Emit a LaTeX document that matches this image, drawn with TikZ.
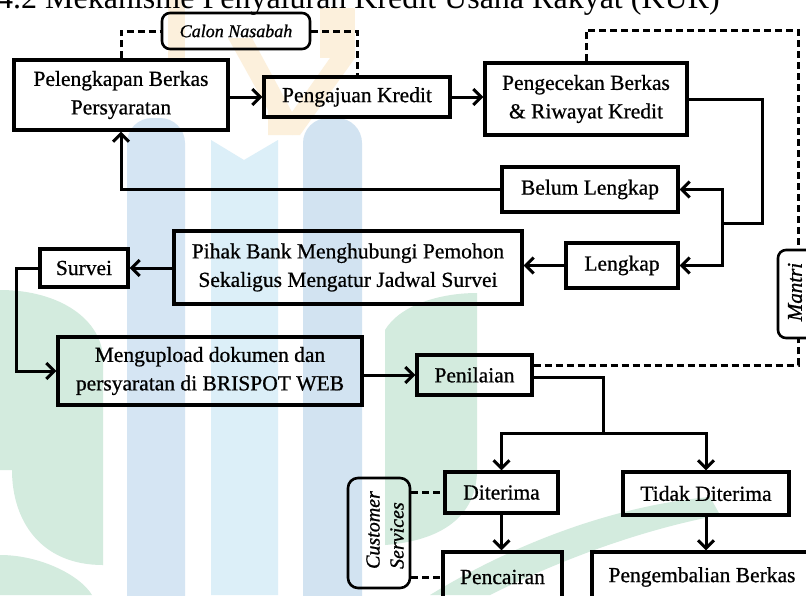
\documentclass[tikz,border=0pt]{standalone}
\usepackage{fontspec}
\setmainfont{Liberation Serif}
\newfontfamily\boxfont{Liberation Serif}[FakeBold=0.7]
\newfontfamily\lblfont{Liberation Serif}[FakeBold=1.0]
\usetikzlibrary{arrows.meta}
\definecolor{wmblueA}{HTML}{D5E5F3}
\definecolor{wmblueB}{HTML}{DCEFF8}
\definecolor{wmblueC}{HTML}{D2E3F1}
\definecolor{wmgreen}{HTML}{D3EBDE}
\definecolor{wmyellow}{HTML}{FCF0DC}
\begin{document}
\begin{tikzpicture}[x=1pt,y=-1pt,
  box/.style={draw=black, line width=3.2pt, align=center, inner sep=0pt,
    font=\boxfont\fontsize{21.5}{28.5}\selectfont},
  rbox/.style={draw=black, line width=2.6pt, rounded corners=8pt, inner sep=0pt},
  lbl/.style={font=\lblfont\itshape\fontsize{18}{22}\selectfont, align=center},
  link/.style={line width=3pt},
  arr/.style={line width=3pt, -{Straight Barb[length=8pt,width=16pt]}},
  dsh/.style={line width=3pt, dash pattern=on 7pt off 4pt},
]
\useasboundingbox (0,0) rectangle (806,595);
\clip (0,0) rectangle (806,595);
\fill[white] (0,0) rectangle (806,595);
% watermark
\fill[wmyellow] (168,0) rectangle (185,58);
\fill[wmyellow] (228,38) -- (252,38) -- (292,112) -- (292,135) -- (268,135) -- (268,110) -- cycle;
\fill[wmyellow] (320,8) rectangle (355,58);
\fill[wmyellow] (330,58) -- (355,58) -- (300,135) -- (292,135) -- (292,112) -- cycle;
\fill[wmblueA, rounded corners=25pt] (127,118) rectangle (185,640);
\fill[wmblueB] (211,140) -- (244,160) -- (278,140) -- (278,595) -- (211,595) -- cycle;
\fill[wmblueC, rounded corners=25pt] (303,118) rectangle (362,640);
\fill[wmgreen] (0,290) .. controls (60,290) and (103,320) .. (103,360) -- (103,565)
  .. controls (40,565) and (12,520) .. (12,470) -- (0,470) -- cycle;
\fill[wmgreen] (0,555) .. controls (40,555) and (80,575) .. (92,595) -- (0,595) -- cycle;
\fill[wmgreen] (385,330) .. controls (400,305) and (440,293) .. (477,293) -- (477,470)
  .. controls (477,510) and (450,540) .. (385,545) -- cycle;
\fill[wmgreen] (430,595) .. controls (520,540) and (620,505) .. (710,497) -- (720,515)
  .. controls (640,530) and (560,560) .. (490,595) -- cycle;
% title
\node[anchor=base west, inner sep=0pt, font=\fontsize{32}{36}\selectfont] (title) at (-3,8)
  {4.2 Mekanisme Penyaluran Kredit Usaha Rakyat (KUR)};
% nodes
\node[rbox, lbl, minimum width=148pt, minimum height=36pt] (calon) at (236,31) {Calon Nasabah};
\node[box, minimum width=214pt, minimum height=70pt] (pel) at (121,95) {Pelengkapan Berkas\\Persyaratan};
\node[box, minimum width=186pt, minimum height=40pt] (peng) at (357,97) {Pengajuan Kredit};
\node[box, minimum width=202pt, minimum height=72pt] (cek) at (586,99) {Pengecekan Berkas\\\& Riwayat Kredit};
\node[box, minimum width=176pt, minimum height=45pt] (belum) at (590,189.5) {Belum Lengkap};
\node[box, minimum width=112pt, minimum height=45pt] (lengkap) at (622,265.5) {Lengkap};
\node[box, minimum width=348pt, minimum height=73pt] (pihak) at (348,267.5) {Pihak Bank Menghubungi Pemohon\\Sekaligus Mengatur Jadwal Survei};
\node[box, minimum width=88pt, minimum height=38pt] (survei) at (84,268) {Survei};
\node[box, minimum width=304pt, minimum height=68pt] (upload) at (210,371) {Mengupload dokumen dan\\persyaratan di BRISPOT WEB};
\node[box, minimum width=115pt, minimum height=40pt] (nilai) at (474.5,375) {Penilaian};
\node[rbox, minimum width=40pt, minimum height=88pt] (mantri) at (798,294) {};
\node[lbl, font=\lblfont\itshape\fontsize{21}{24}\selectfont, rotate=90, inner sep=0pt] (mantrit) at (795,292) {Mantri};
\node[box, minimum width=113pt, minimum height=41pt] (terima) at (501.5,492.5) {Diterima};
\node[box, minimum width=166pt, minimum height=43pt] (tidak) at (706,493.5) {Tidak Diterima};
\node[box, minimum width=119pt, minimum height=50pt] (cair) at (502.5,577) {Pencairan};
\node[box, minimum width=220pt, minimum height=50pt] (kembali) at (702,577) {Pengembalian Berkas};
\node[rbox, rounded corners=10pt, minimum width=62pt, minimum height=110pt] (cs) at (379,533) {};
\node[lbl, font=\lblfont\itshape\fontsize{20}{24}\selectfont, align=left, rotate=90] (cst) at (385,530) {Customer\\Services};
% coordinates
\coordinate (c1) at (762,223);
\coordinate (j) at (722,223);
\coordinate (sv) at (16,268);
\coordinate (b1) at (603,433);
% connectors
\draw[dsh] (pel.north) |- (calon.west);
\draw[dsh] (calon.east) -| (peng.north);
\draw[arr] (pel.east |- peng.west) -- (peng.west);
\draw[arr] (peng.east) -- (cek.west |- peng.east);
\draw[dsh] (cek.north) -- ++(0,-31) -| (mantri.north);
\draw[link] (cek.east) -| (c1) -- (j);
\draw[arr] (j) |- (belum.east);
\draw[arr] (j) |- (lengkap.east);
\draw[arr] (belum.west) -| (pel.south);
\draw[arr] (lengkap.west) -- (pihak.east |- lengkap.west);
\draw[arr] (pihak.west |- survei.east) -- (survei.east);
\draw[arr] (survei.west) -- (sv) |- (upload.west);
\draw[arr] (upload.east |- nilai.west) -- (nilai.west);
\draw[dsh] ([yshift=10pt]nilai.east) -| (mantri.south);
\draw[link] ([yshift=-2pt]nilai.east) -| (b1);
\draw[arr] (b1) -| (terima.north);
\draw[arr] (b1) -| (tidak.north);
\draw[arr] (terima.south) -- (terima.south |- cair.north);
\draw[arr] (tidak.south) -- (tidak.south |- kembali.north);
\draw[dsh] (cs.east |- terima.west) -- (terima.west);
\draw[dsh] (cs.east |- cair.west) -- (cair.west);
\end{tikzpicture}
\end{document}
